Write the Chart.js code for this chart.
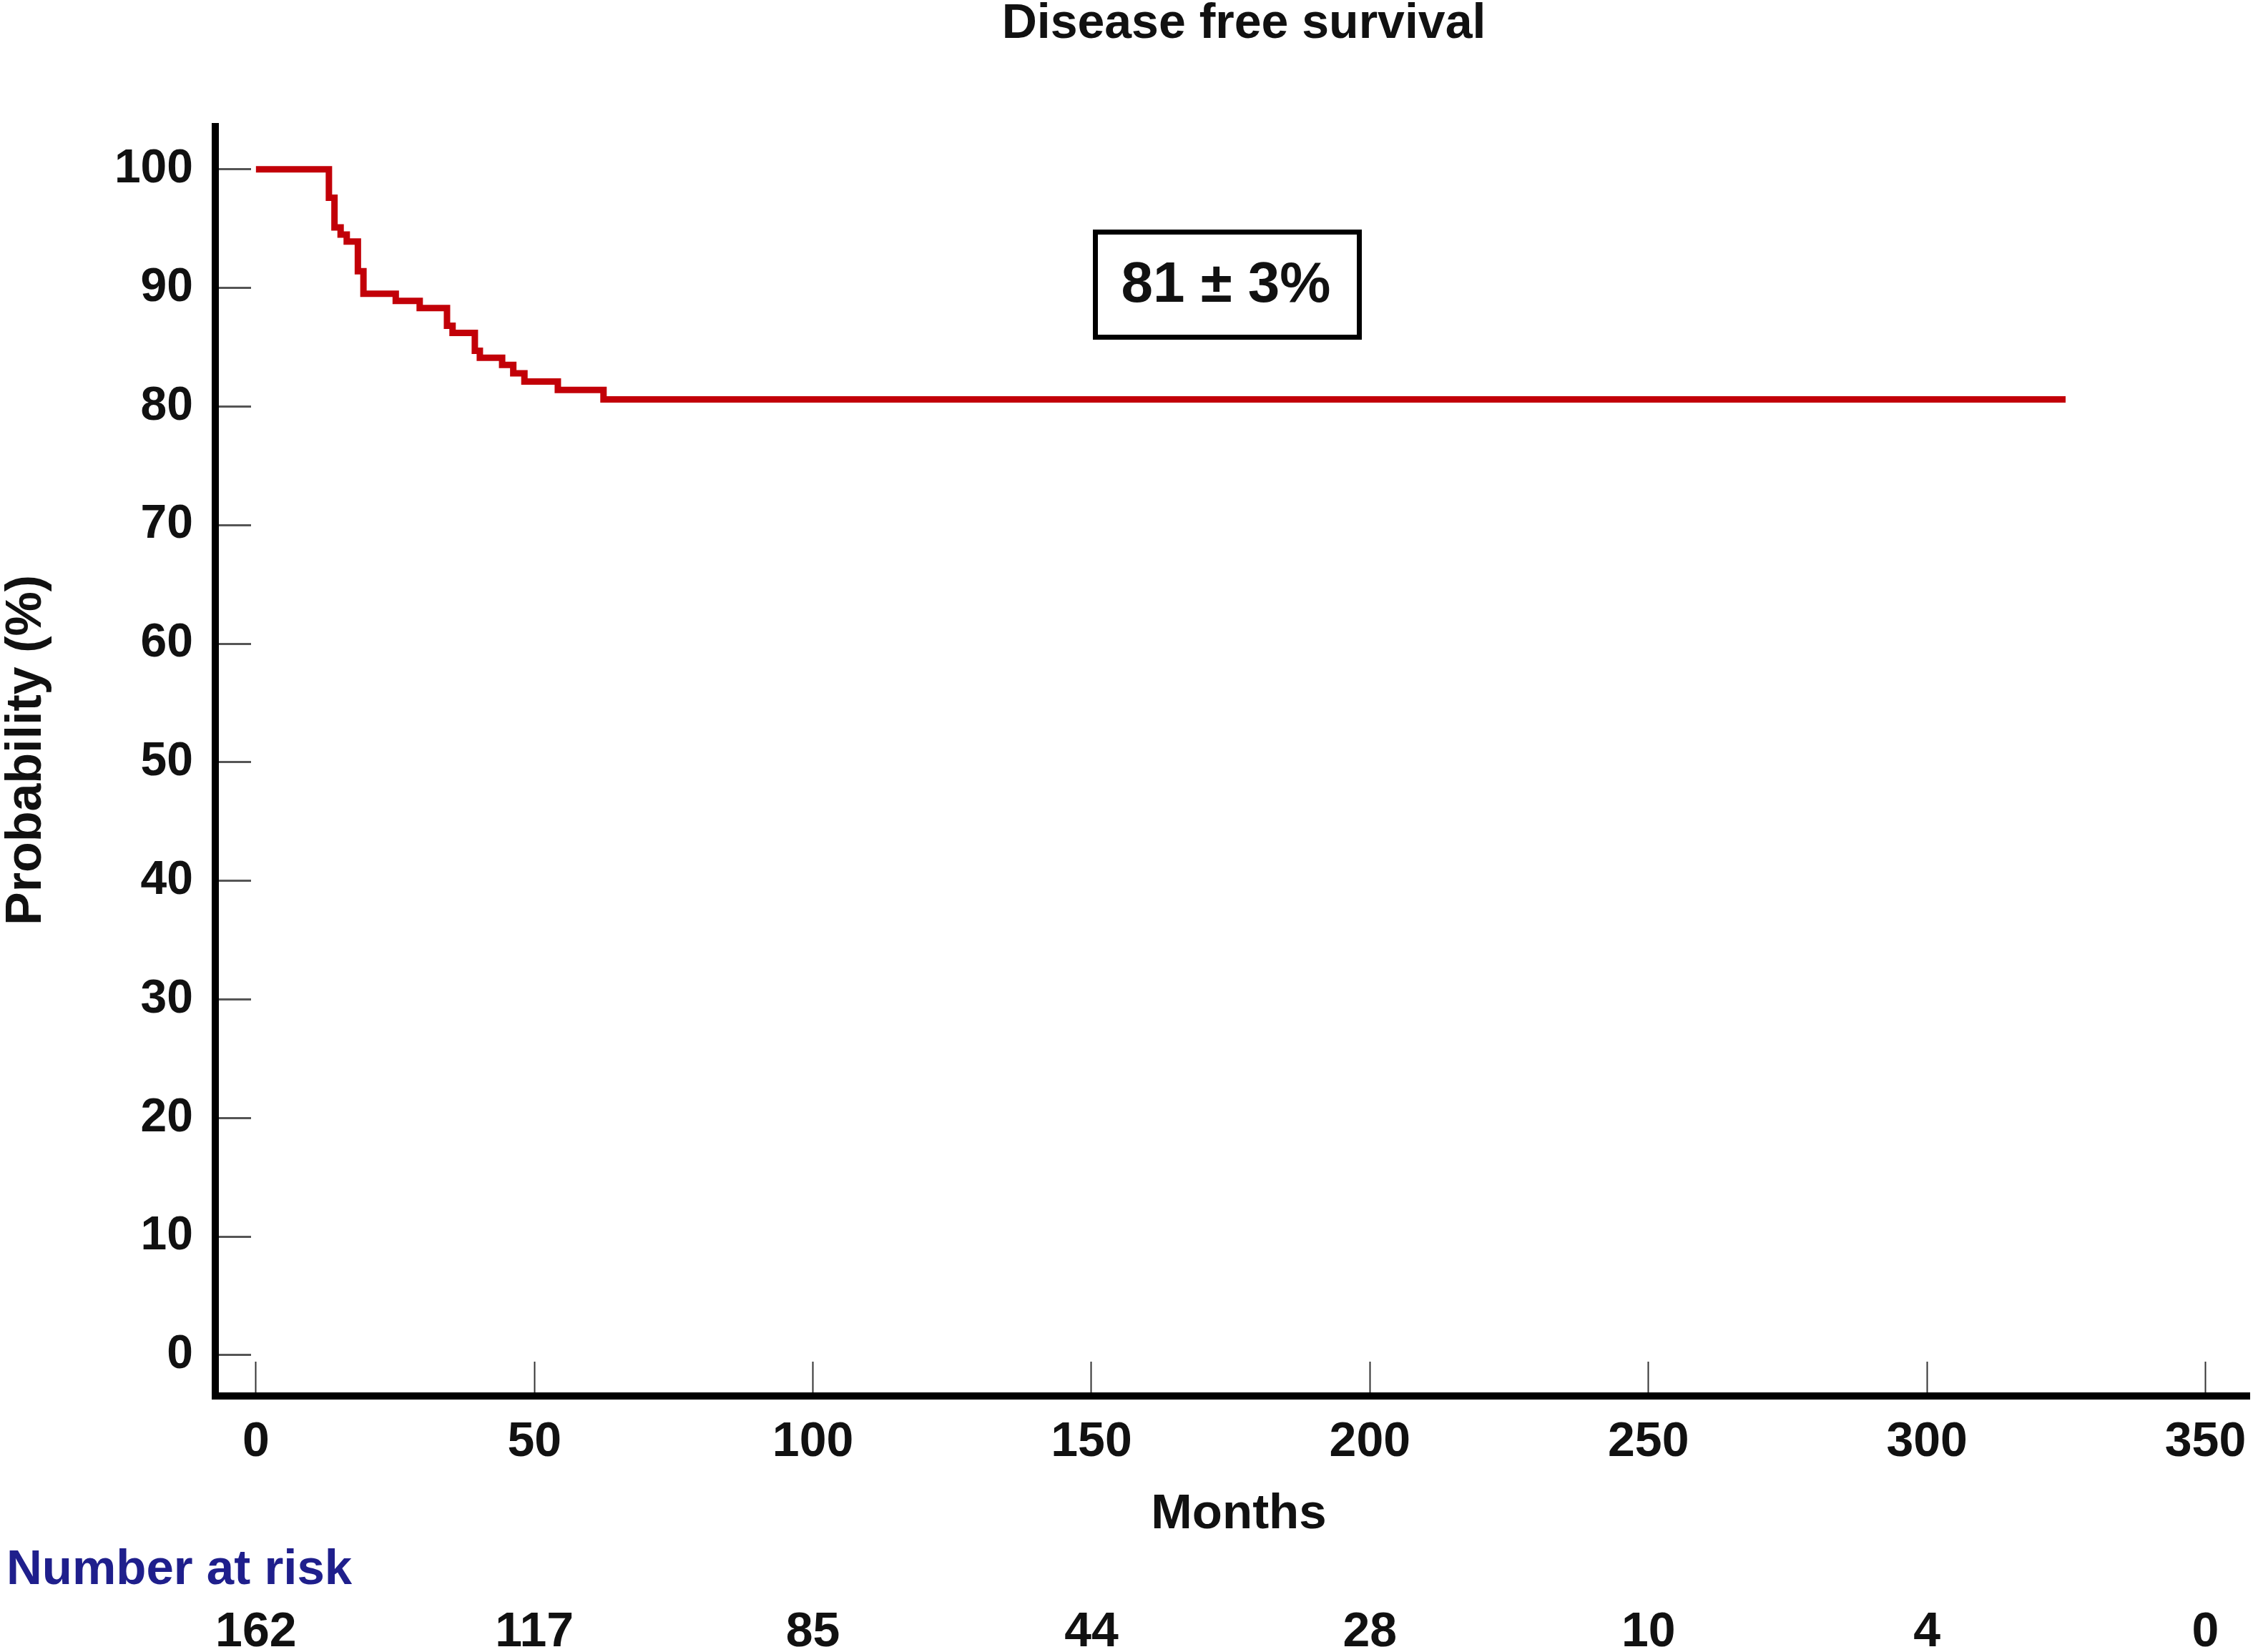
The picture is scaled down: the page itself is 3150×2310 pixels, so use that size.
<!DOCTYPE html>
<html>
<head>
<meta charset="utf-8">
<script src="https://cdn.jsdelivr.net/npm/chart.js@4.4.0/dist/chart.umd.min.js"></script>
<style>
  html, body { margin: 0; padding: 0; background: #fff; overflow: hidden; }
  #wrap { width: 3150px; height: 2310px; }
</style>
</head>
<body>
<div id="wrap"><canvas id="km"></canvas></div>
<script>

// Kaplan-Meier steps (month of drop, % after drop)
const eventMonths = [0, 13.1, 14.1, 15.2, 16.3, 18.3, 19.3, 25.1, 29.4, 34.3, 35.3, 39.3, 40.2, 44.2, 46.2, 48.2, 54.2, 62.4, 324.9];
const survivalPct = [100, 97.6, 95.1, 94.5, 93.9, 91.4, 89.5, 88.9, 88.3, 86.8, 86.2, 84.7, 84.1, 83.5, 82.8, 82.1, 81.4, 80.6, 80.6];

// axis ticks
const monthTicks = [0, 50, 100, 150, 200, 250, 300, 350];
const probTicks = [0, 10, 20, 30, 40, 50, 60, 70, 80, 90, 100];

// number at risk under each month tick
const riskCounts = [162, 117, 85, 44, 28, 10, 4, 0];

const FONT = '"Liberation Sans", Arial, sans-serif';

// build points for the line ---------------
let points = [];
for (let i = 0; i < eventMonths.length; i++) {
    points.push({ x: eventMonths[i], y: survivalPct[i] });
}

// title, axis titles, estimate box and the number-at-risk rows
const overlay = {
    id: 'overlay',
    afterDraw(chart) {
        const ctx = chart.ctx;
        const xScale = chart.scales.x;
        ctx.save();
        ctx.fillStyle = '#111';
        ctx.font = 'bold 68px ' + FONT;
        ctx.textAlign = 'center';
        ctx.textBaseline = 'alphabetic';
        ctx.fillText('Disease free survival', 1739, 53);

        // x axis title
        ctx.font = 'bold 69px ' + FONT;
        ctx.fillText('Months', 1732, 2137);

        // y axis title
        ctx.save();
        ctx.translate(38, 1049);
        ctx.rotate(-Math.PI / 2);
        ctx.font = 'bold 70px ' + FONT;
        ctx.textBaseline = 'middle';
        ctx.fillText('Probability (%)', 0, 0);
        ctx.restore();

        // 81 +- 3% box
        ctx.lineWidth = 7;
        ctx.strokeStyle = '#000';
        ctx.strokeRect(1531.5, 324.5, 369, 147);
        ctx.font = 'bold 80px ' + FONT;
        ctx.fillText('81 \u00B1 3%', 1714, 422);

        ctx.font = 'bold 69px ' + FONT;
        ctx.textAlign = 'left';
        ctx.fillStyle = '#1f1f8c';
        ctx.fillText('Number at risk', 9, 2215);

        ctx.font = 'bold 68px ' + FONT;
        ctx.textAlign = 'center';
        ctx.fillStyle = '#111';
        for (let i = 0; i < monthTicks.length; i++) {
            ctx.fillText(String(riskCounts[i]), xScale.getPixelForValue(monthTicks[i]), 2302);
        }
        ctx.restore();
    }
};

const ctx = document.getElementById('km').getContext('2d');
const chart = new Chart(ctx, {
    type: 'line',
    data: {
        datasets: [{
            label: 'Disease free survival',
            data: points,
            stepped: true,
            borderColor: '#c20008',
            borderWidth: 9,
            borderCapStyle: 'butt',
            borderJoinStyle: 'miter',
            pointRadius: 0,
            fill: false
        }]
    },
    options: {
        responsive: true,
        maintainAspectRatio: false,
        devicePixelRatio: 1,
        animation: false,
        layout: { padding: { top: 177, right: 5, left: 0, bottom: 0 } },
        plugins: {
            legend: { display: false },
            tooltip: { enabled: false }
        },
        scales: {
            x: {
                type: 'linear',
                min: -7.3,
                max: 357.9,
                afterBuildTicks: (s) => { s.ticks = monthTicks.map(v => ({ value: v })); },
                afterFit: (s) => { s.height = 358; s.paddingLeft = 0; s.paddingRight = 0; },
                grid: { drawOnChartArea: false, drawTicks: true, tickLength: -48, tickWidth: 2, tickColor: '#333' },
                border: { display: true, width: 10, color: '#000' },
                ticks: { padding: 72, color: '#111', font: { family: FONT, size: 68, weight: 'bold' }, maxRotation: 0, autoSkip: false },
                title: { display: false }
            },
            y: {
                type: 'linear',
                min: -3.44,
                max: 103.6,
                afterBuildTicks: (s) => { s.ticks = probTicks.map(v => ({ value: v })); },
                afterFit: (s) => { s.width = 301; s.paddingTop = 0; s.paddingBottom = 0; },
                grid: { drawOnChartArea: false, drawTicks: true, tickLength: -50, tickWidth: 3, tickColor: '#555' },
                border: { display: true, width: 10, color: '#000' },
                ticks: { padding: 81, color: '#111', font: { family: FONT, size: 66, weight: 'bold' } },
                title: { display: false }
            }
        }
    },
    plugins: [overlay]
});
</script>
</body>
</html>
